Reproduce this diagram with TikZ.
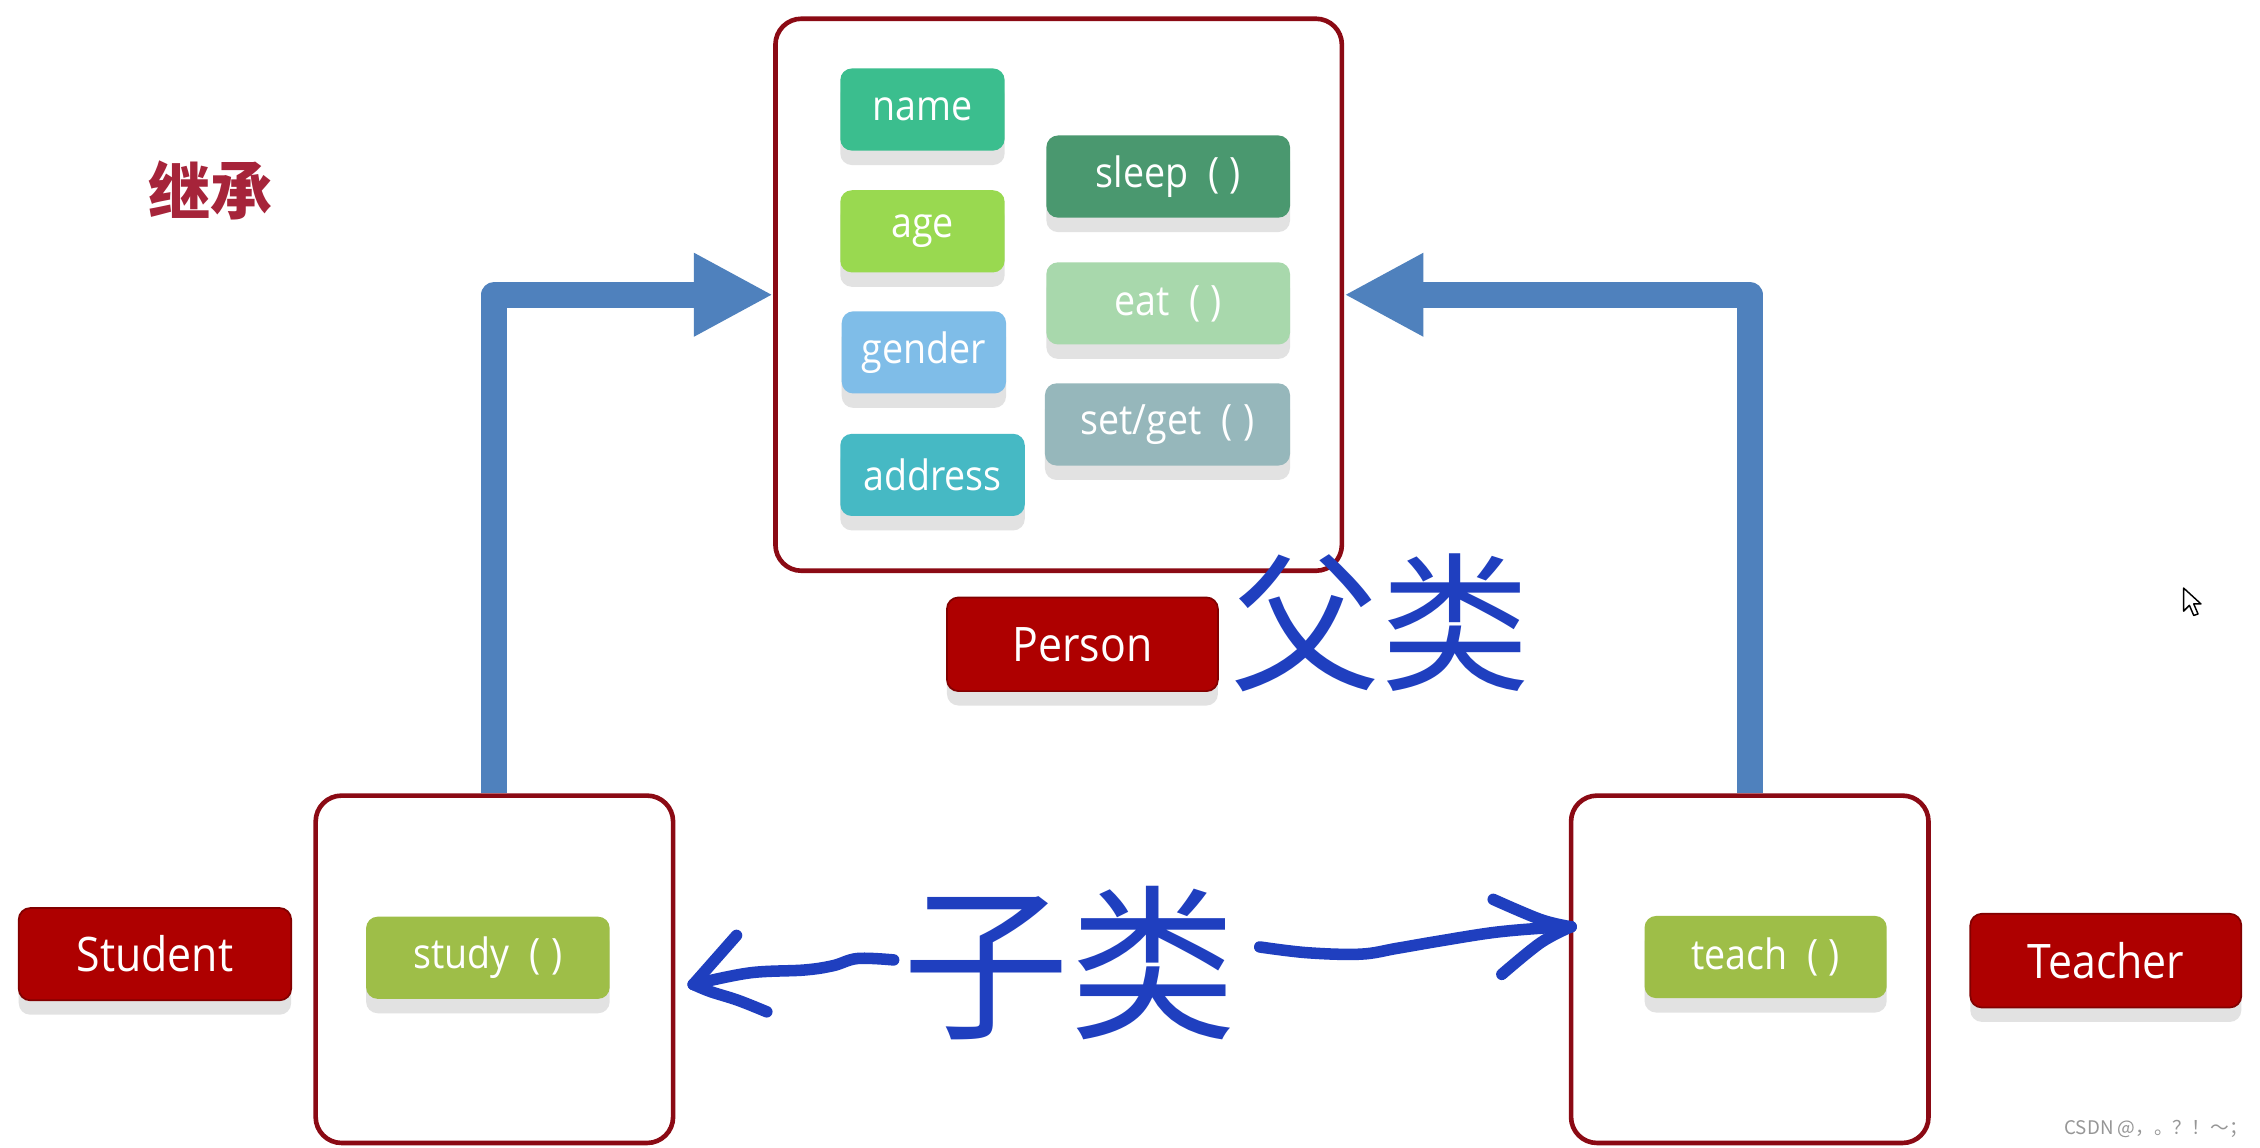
\documentclass[tikz,border=0pt]{standalone}
\usepackage{fontspec}
\setmainfont[FakeStretch=0.9]{Open Sans}
\newfontfamily\cjk{Noto Sans CJK SC}
\usetikzlibrary{arrows.meta,shadows,backgrounds}
\definecolor{framered}{RGB}{139,10,20}
\definecolor{labelred}{RGB}{174,0,0}
\definecolor{labelredD}{RGB}{130,0,0}
\definecolor{titlered}{RGB}{166,36,58}
\definecolor{barblue}{RGB}{79,129,189}
\definecolor{inkblue}{RGB}{31,63,191}
\definecolor{shadowgray}{RGB}{226,226,226}
\definecolor{nameC}{RGB}{59,190,142}
\definecolor{ageC}{RGB}{153,217,80}
\definecolor{genderC}{RGB}{127,189,232}
\definecolor{addressC}{RGB}{70,185,196}
\definecolor{sleepC}{RGB}{74,152,111}
\definecolor{eatC}{RGB}{168,216,172}
\definecolor{setgetC}{RGB}{150,183,187}
\definecolor{studyC}{RGB}{158,190,72}
\definecolor{markgray}{RGB}{150,150,150}
\newcommand{\callp}{\hspace{7pt}(\hspace{3.5pt})\hspace{9pt}}
\begin{document}
\begin{tikzpicture}[x=0.5pt,y=-0.5pt,
  bigframe/.style={draw=framered, line width=1.6pt, rounded corners=9pt, fill=white, inner sep=0pt, minimum width=124pt, minimum height=120.5pt},
  boxshadow/.style={drop shadow={shadow xshift=0pt, shadow yshift=-5pt, fill=shadowgray, opacity=1}},
  itembox/.style={boxshadow, rounded corners=4pt, inner sep=0pt, text=white, font=\fontsize{14.5pt}{17pt}\selectfont, minimum height=28.5pt},
  redlabel/.style={boxshadow, fill=labelred, draw=labelredD, line width=0.6pt, rounded corners=4pt, inner sep=0pt, text=white, font=\fontsize{16.5pt}{19pt}\selectfont, minimum width=94pt, minimum height=32.5pt},
  bar/.style={draw=barblue, line width=9pt, line join=round, -{Triangle[length=27.5pt,width=27pt]}},
  ink/.style={draw=inkblue, line width=4pt, line cap=round, line join=round},
  inktext/.style={text=inkblue, inner sep=0pt}
]
\useasboundingbox (0,0) rectangle (1568,796);

% frames
\node[bigframe, minimum width=196.5pt, minimum height=191.5pt] (personframe) at (734.5,204.5) {};
\node[bigframe] (studentframe) at (343,672.5) {};
\node[bigframe] (teacherframe) at (1214,672.5) {};

% page background and inheritance bars (behind the frames)
\begin{scope}[on background layer]
\fill[white] (0,0) rectangle (1568,796);
\draw[bar] (studentframe.north) |- (personframe.west);
\draw[bar] (teacherframe.north) |- (personframe.east);
\end{scope}

% attributes
\node[itembox, fill=nameC, minimum width=57pt] (name) at (640,76) {name};
\node[itembox, fill=ageC, minimum width=57pt] (age) at (640,160.5) {age};
\node[itembox, fill=genderC, minimum width=57pt] (gender) at (641,244.5) {gender};
\node[itembox, fill=addressC, minimum width=64pt] (address) at (647,329.5) {address};
% methods
\node[itembox, fill=sleepC, minimum width=84.5pt] (sleep) at (810.5,122.5) {sleep\callp};
\node[itembox, fill=eatC, minimum width=84.5pt] (eat) at (810.5,210.5) {eat\callp};
\node[itembox, fill=setgetC, minimum width=85pt] (setget) at (810,294.5) {set/get\callp};
\node[itembox, fill=studyC, minimum width=84.5pt] (study) at (338.5,664.5) {study\callp};
\node[itembox, fill=studyC, minimum width=84pt] (teach) at (1225,664) {teach\callp};

% class labels
\node[redlabel] (personlabel) at (751,447) {Person};
\node[redlabel, minimum width=94.5pt, minimum height=32pt] (studentlabel) at (107.5,662) {Student};
\node[redlabel] (teacherlabel) at (1461,666.5) {Teacher};

% title
\node[text=titlered, font=\cjk\bfseries\fontsize{21.5pt}{24pt}\selectfont, inner sep=0pt] (title) at (146,132) {继承};

% handwritten notes
\node[inktext, font=\cjk\fontsize{52pt}{56pt}\selectfont] (parentnote) at (958,432) {父类};
\node[inktext, font=\cjk\fontsize{58pt}{62pt}\selectfont] (childnote) at (742,668) {子类};

% handwritten arrows
\coordinate (ltip) at (481,683);
\coordinate (rtip) at (1090,643);
\draw[ink] plot[smooth, tension=0.6] coordinates {(620,666) (595,665) (578,670) (558,673) (520,675) (ltip)};
\draw[ink] (511,649) -- (ltip);
\draw[ink] plot[smooth, tension=0.6] coordinates {(ltip) (493,688) (512,694) (532,702)};
\draw[ink] plot[smooth, tension=0.6] coordinates {(874,657) (907,661) (944,662) (969,658) (998,653) (1036,647) (1069,644) (rtip)};
\draw[ink] plot[smooth, tension=0.6] coordinates {(1036,624) (1069,638) (rtip)};
\draw[ink] plot[smooth, tension=0.6] coordinates {(rtip) (1069,654) (1042,676)};

% mouse cursor
\draw[fill=white, line width=0.5pt, line join=round] (1515,408) -- (1515,424) -- (1519,420) -- (1522,427) -- (1525,426) -- (1522,419) -- (1527,419) -- cycle;

% watermark
\node[anchor=east, text=markgray, font=\cjk\fontsize{6.5pt}{8pt}\selectfont, inner sep=0pt] (mark) at (1560,783) {CSDN @，。？！～；};
\end{tikzpicture}
\end{document}
